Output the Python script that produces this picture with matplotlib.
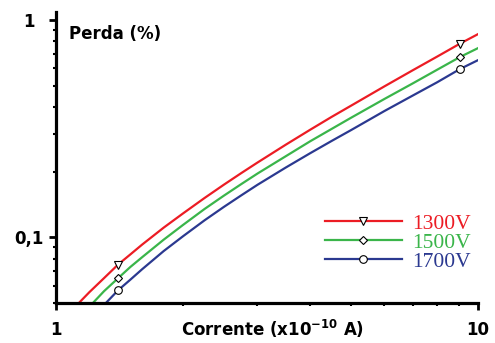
import matplotlib
matplotlib.use("Agg")
import matplotlib.pyplot as plt
from matplotlib.ticker import FixedLocator, LogLocator, NullFormatter

plt.rcParams['font.family'] = ['DejaVu Sans']
plt.rcParams['mathtext.fontset'] = 'dejavusans'

# loss curves for each voltage, current in units of 1e-10 A, loss in %
x_1300 = [1.134, 1.2, 1.3, 1.403, 1.5, 1.6, 1.8, 2.0, 2.25, 2.5, 2.75, 3.0, 3.5,
          4.0, 4.5, 5.0, 6.0, 7.0, 8.0, 9.06, 10.0]
y_1300 = [0.050, 0.056, 0.065, 0.075, 0.0835, 0.0927, 0.111, 0.129, 0.152, 0.175,
          0.198, 0.221, 0.267, 0.313, 0.359, 0.404, 0.496, 0.588, 0.680, 0.780, 0.863]

x_1500 = [1.224, 1.3, 1.403, 1.5, 1.6, 1.8, 2.0, 2.25, 2.5, 2.75, 3.0, 3.5,
          4.0, 4.5, 5.0, 6.0, 7.0, 8.0, 9.06, 10.0]
y_1500 = [0.050, 0.0566, 0.0649, 0.0731, 0.0811, 0.0977, 0.1142, 0.1353, 0.1558,
          0.1762, 0.1967, 0.2363, 0.277, 0.316, 0.3555, 0.434, 0.5116, 0.5916, 0.677, 0.744]

x_1700 = [1.314, 1.403, 1.5, 1.6, 1.8, 2.0, 2.25, 2.5, 2.75, 3.0, 3.5,
          4.0, 4.5, 5.0, 6.0, 7.0, 8.0, 9.06, 10.0]
y_1700 = [0.050, 0.0571, 0.0639, 0.0714, 0.0866, 0.1013, 0.120, 0.1383, 0.1564,
          0.1746, 0.2096, 0.2441, 0.2782, 0.3119, 0.3819, 0.4498, 0.518, 0.596, 0.655]

labels = ['1300V', '1500V', '1700V']
colors = ['#ec1c24', '#3ab54a', '#2b3990']
markers = ['v', 'D', 'o']
msizes = [6, 4, 5.5]

fig = plt.figure(figsize=(4.95, 3.43), dpi=100)
ax = fig.add_axes([0.113, 0.117, 0.853, 0.848])

series = [(x_1300, y_1300), (x_1500, y_1500), (x_1700, y_1700)]
for (xs, ys), lab, c, m, ms in zip(series, labels, colors, markers, msizes):
    # open markers only near 1.4 and 9
    mk = [xs.index(1.403), xs.index(9.06)]
    ax.plot(xs, ys, color=c, lw=1.6, marker=m, markevery=mk, ms=ms,
            mfc='white', mec='black', mew=0.8, label=lab)

ax.set_xscale('log')
ax.set_yscale('log')
ax.set_xlim(1, 10)
ax.set_ylim(0.05, 1.09)

for s in ['top', 'right']:
    ax.spines[s].set_visible(False)
for s in ['left', 'bottom']:
    ax.spines[s].set_linewidth(2.3)

ax.xaxis.set_major_locator(FixedLocator([1, 10]))
ax.set_xticklabels(['1', '10'], fontsize=12, fontweight='bold')
ax.xaxis.set_minor_locator(LogLocator(base=10, subs=range(2, 10)))
ax.xaxis.set_minor_formatter(NullFormatter())

ax.yaxis.set_major_locator(FixedLocator([0.1, 1]))
ax.set_yticklabels(['0,1', '1'], fontsize=12, fontweight='bold')
ax.yaxis.set_minor_locator(LogLocator(base=10, subs=range(2, 10)))
ax.yaxis.set_minor_formatter(NullFormatter())
for lbl in ax.get_yticklabels():
    lbl.set_ha('center')

ax.tick_params(axis='both', which='major', direction='out', length=5, width=2)
ax.tick_params(axis='x', which='major', pad=8)
ax.tick_params(axis='y', which='major', pad=14.5)
ax.tick_params(axis='both', which='minor', direction='out', length=2, width=1.5)

ax.set_xlabel(r'Corrente (x10$^{\mathbf{-10}}$ A)', fontsize=12, fontweight='bold')
ax.xaxis.set_label_coords(0.512, -0.09)
ax.xaxis.label.set_va('center')

ax.text(0.03, 0.955, 'Perda (%)', transform=ax.transAxes, fontsize=12,
        fontweight='bold', va='top', ha='left')

leg = ax.legend(loc='lower right', bbox_to_anchor=(1.012, 0.062), frameon=False,
                prop={'family': 'Liberation Serif', 'size': 15.5},
                handlelength=3.6, handletextpad=0.45, labelspacing=-0.05,
                borderaxespad=0.2)
for t, c in zip(leg.get_texts(), colors):
    t.set_color(c)

fig.savefig('out.png', dpi=100)
